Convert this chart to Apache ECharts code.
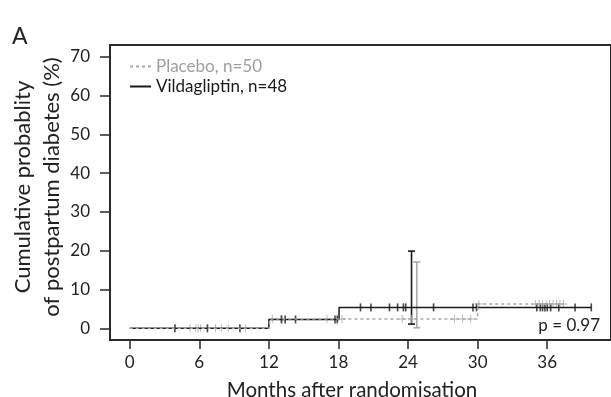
<!DOCTYPE html>
<html>
<head>
<meta charset="utf-8">
<script src="https://cdn.jsdelivr.net/npm/echarts@6/dist/echarts.min.js"></script>
<style>
  html, body { margin: 0; padding: 0; background: #fff; }
  #chart { width: 611px; height: 397px; }
</style>
</head>
<body>
<div id="chart"></div>
<script>
// step curves (months, cumulative %)
const vildTimes = [0, 12, 18.05, 39.8];
const vildValues = [0, 2.3, 5.4, 5.4];
const placTimes = [0, 12.05, 30, 37.4];
const placValues = [0, 2.4, 6.3, 6.3];

// censoring times
const vildCensor = [3.9, 6.7, 9.5, 13.1, 13.4, 14.3, 17.7, 17.9, 19.9, 20.8, 22.4, 23.1, 23.6, 23.8,
  26.2, 29.6, 29.9, 35.1, 35.4, 35.6, 35.8, 36.0, 36.3, 37.0, 38.4, 39.8];
const placCensor = [5.2, 5.7, 5.9, 6.1, 7.4, 7.9, 8.5, 10.0, 12.3, 13.0, 17.0, 18.3, 23.5, 24.3,
  28.0, 28.7, 29.4, 30.1, 35.0, 35.3, 35.6, 35.9, 36.2, 36.5, 36.8, 37.1, 37.4];

// 95% CI at 24 months: [month, low, high]
const vildCI = [[24.3, 1.1, 19.9]];
const placCI = [[24.75, 0.15, 17.1]];

const xTicks = [0, 6, 12, 18, 24, 30, 36];
const yTicks = [0, 10, 20, 30, 40, 50, 60, 70];

const BLACK = "#1a1a1a";
const GREY = "#a8a8a8";
const FONT = "Lato";

function kmAt(times, values, t) {
  let v = values[0];
  for (let i = 0; i < times.length; i++) if (t >= times[i]) v = values[i];
  return v;
}

const ciRender = (color) => (params, api) => {
  const lo = api.coord([api.value(0), api.value(1)]);
  const hi = api.coord([api.value(0), api.value(2)]);
  const style = { stroke: color, lineWidth: 1.6 };
  return {
    type: "group",
    children: [
      { type: "line", shape: { x1: lo[0], y1: lo[1], x2: hi[0], y2: hi[1] }, style },
      { type: "line", shape: { x1: lo[0] - 3.5, y1: lo[1], x2: lo[0] + 3.5, y2: lo[1] }, style },
      { type: "line", shape: { x1: hi[0] - 3.5, y1: hi[1], x2: hi[0] + 3.5, y2: hi[1] }, style },
    ],
  };
};

const plus = "path://M4.4,0h1.2v4.4h4.4v1.2h-4.4v4.4h-1.2v-4.4h-4.4v-1.2h4.4z";

const chart = echarts.init(document.getElementById("chart"));
chart.setOption({
  animation: false,
  textStyle: { fontFamily: FONT },
  grid: {
    left: 110, right: -5, top: 45, bottom: 57,
    show: true, borderColor: "#2a2a2a", borderWidth: 2,
  },
  legend: {
    left: 124, top: 53, orient: "vertical", itemWidth: 21, itemHeight: 10, itemGap: 3,
    itemStyle: { opacity: 0, borderWidth: 0 },
    textStyle: { fontFamily: FONT, fontSize: 17 },
    data: [
      { name: "Placebo, n=50", textStyle: { color: "#9e9e9e" } },
      { name: "Vildagliptin, n=48", textStyle: { color: BLACK } },
    ],
  },
  xAxis: {
    type: "value", min: -1.7, max: 41.5,
    axisLine: { show: true, onZero: false, lineStyle: { color: "#2a2a2a", width: 2 } },
    axisTick: { show: true, length: 9, customValues: xTicks, lineStyle: { color: "#2a2a2a", width: 1.5 } },
    axisLabel: { customValues: xTicks, margin: 14, color: "#222", fontSize: 17, fontFamily: FONT },
    splitLine: { show: false },
  },
  yAxis: {
    type: "value", min: -3, max: 73,
    axisLine: { show: true, onZero: false, lineStyle: { color: "#2a2a2a", width: 2 } },
    axisTick: { show: true, length: 10, customValues: yTicks, lineStyle: { color: "#2a2a2a", width: 1.5 } },
    axisLabel: { customValues: yTicks, margin: 20, color: "#222", fontSize: 17, fontFamily: FONT },
    splitLine: { show: false },
  },
  graphic: [
    { type: "text", left: 12, top: 25, style: { text: "A", font: "23px " + FONT, fill: "#222" } },
    {
      type: "text", x: 37, y: 187, rotation: Math.PI / 2,
      style: {
        text: "Cumulative probablity\nof postpartum diabetes (%)",
        font: "22px " + FONT, fill: "#222", align: "center", verticalAlign: "middle", lineHeight: 29,
      },
    },
    {
      type: "text", x: 352, y: 390,
      style: { text: "Months after randomisation", font: "20.5px " + FONT, fill: "#222", align: "center", verticalAlign: "middle" },
    },
    {
      type: "text", x: 600, y: 326,
      style: { text: "p = 0.97", font: "17px " + FONT, fill: "#222", align: "right", verticalAlign: "middle" },
    },
  ],
  series: [
    {
      name: "Vildagliptin, n=48", type: "line", step: "end", symbol: "none",
      data: vildTimes.map((t, i) => [t, vildValues[i]]),
      lineStyle: { color: BLACK, width: 1.5 }, itemStyle: { color: BLACK },
    },
    {
      name: "Placebo, n=50", type: "line", step: "end", symbol: "none",
      data: placTimes.map((t, i) => [t, placValues[i]]),
      lineStyle: { color: GREY, width: 1.5, type: [3, 3] }, itemStyle: { color: GREY },
    },
    {
      name: "vild-censor", type: "scatter", symbol: "rect", symbolSize: [1.6, 8],
      data: vildCensor.map((t) => [t, kmAt(vildTimes, vildValues, t)]),
      itemStyle: { color: BLACK },
    },
    {
      name: "plac-censor", type: "scatter", symbol: plus, symbolSize: 8,
      data: placCensor.map((t) => [t, kmAt(placTimes, placValues, t)]),
      itemStyle: { color: GREY },
    },
    { name: "vild-ci", type: "custom", renderItem: ciRender(BLACK), data: vildCI },
    { name: "plac-ci", type: "custom", renderItem: ciRender(GREY), data: placCI },
  ],
});
</script>
</body>
</html>
